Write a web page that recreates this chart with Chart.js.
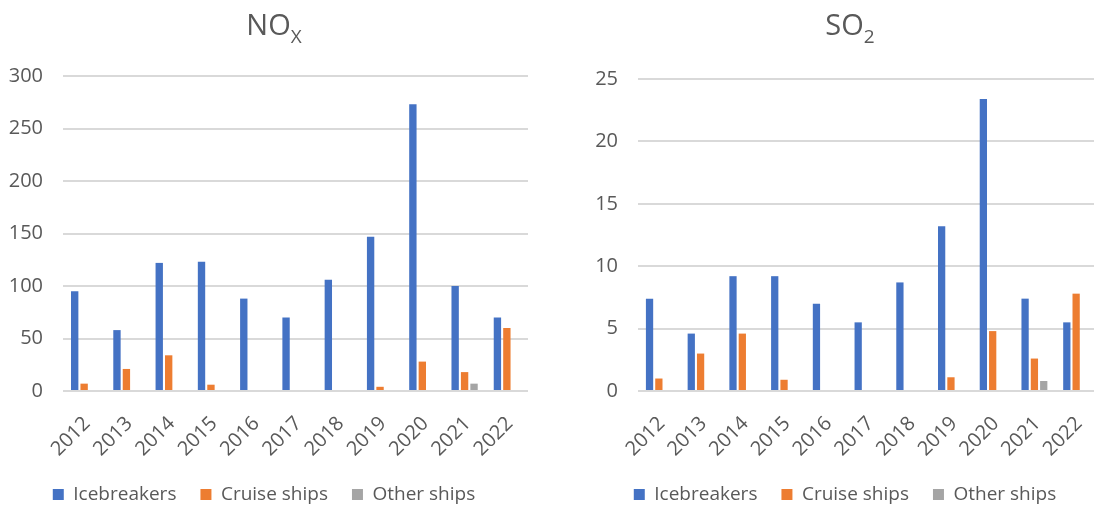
<!DOCTYPE html>
<html>
<head>
<meta charset="utf-8">
<title>NOx and SO2 emissions</title>
<script src="https://cdn.jsdelivr.net/npm/chart.js@4.4.0/dist/chart.umd.min.js"></script>
<style>
  html, body { margin: 0; padding: 0; background: #fff; overflow: hidden; }
  #wrap { position: relative; width: 1094px; height: 507px; overflow: hidden; }
  .box { position: absolute; top: 0; height: 514px; }
  #noxBox { left: 0; width: 547px; }
  #so2Box { left: 560px; width: 580px; }
</style>
</head>
<body>
<div id="wrap">
  <div class="box" id="noxBox"><canvas id="noxChart"></canvas></div>
  <div class="box" id="so2Box"><canvas id="so2Chart"></canvas></div>
</div>
<script>
// Data
const years = ['2012', '2013', '2014', '2015', '2016', '2017', '2018', '2019', '2020', '2021', '2022'];
const seriesNames = ['Icebreakers', 'Cruise ships', 'Other ships'];

const noxIcebreakers = [95, 58, 122, 123, 88, 70, 106, 147, 273, 100, 70];
const noxCruise = [7, 21, 34, 6, 0, 0, 0, 4, 28, 18, 60];
const noxOther = [0, 0, 0, 0, 0, 0, 0, 0, 0, 7, 0];

const so2Icebreakers = [7.4, 4.6, 9.2, 9.2, 7.0, 5.5, 8.7, 13.2, 23.4, 7.4, 5.5];
const so2Cruise = [1.0, 3.0, 4.6, 0.9, 0, 0, 0, 1.1, 4.8, 2.6, 7.8];
const so2Other = [0, 0, 0, 0, 0, 0, 0, 0, 0, 0.8, 0];

const FONT = '"Open Sans", sans-serif';
const TEXT = '#595959';
const GRID = '#d9d9d9';
const colors = ['#4472C4', '#ED7D31', '#A5A5A5'];

// Title with a subscript part (NOx, SO2)
const subTitlePlugin = {
  id: 'subTitle',
  afterDraw(chart, args, opts) {
    const ctx = chart.ctx;
    ctx.save();
    ctx.fillStyle = TEXT;
    ctx.textBaseline = 'alphabetic';
    ctx.textAlign = 'left';
    ctx.font = opts.size + 'px ' + FONT;
    const w1 = ctx.measureText(opts.text).width;
    ctx.font = opts.subSize + 'px ' + FONT;
    const w2 = ctx.measureText(opts.sub).width;
    const x = opts.x - (w1 + w2) / 2;
    ctx.font = opts.size + 'px ' + FONT;
    ctx.fillText(opts.text, x, opts.y);
    ctx.font = opts.subSize + 'px ' + FONT;
    ctx.fillText(opts.sub, x + w1, opts.y + opts.subDrop);
    ctx.restore();
  }
};

function makeChart(id, values, yMax, yStep, layout) {
  const ctx = document.getElementById(id).getContext('2d');
  return new Chart(ctx, {
    type: 'bar',
    data: {
      labels: years,
      datasets: values.map(function(data, i) {
        return {
          label: seriesNames[i],
          data: data,
          backgroundColor: colors[i],
          borderWidth: 0,
          categoryPercentage: 0.67,
          barPercentage: 0.78
        };
      })
    },
    options: {
      responsive: true,
      maintainAspectRatio: false,
      animation: false,
      layout: {
        padding: { top: layout.top, left: layout.left, right: layout.right, bottom: 0 }
      },
      scales: {
        x: {
          grid: { display: false },
          border: { display: false },
          ticks: {
            color: TEXT,
            font: { family: FONT, size: 20 },
            minRotation: 45,
            maxRotation: 45,
            padding: 13,
            labelOffset: 3
          },
          afterFit: function(scale) { scale.height = 70; }
        },
        y: {
          min: 0,
          max: yMax,
          border: { display: false },
          grid: { color: GRID, lineWidth: 2, drawTicks: false },
          ticks: {
            stepSize: yStep,
            color: TEXT,
            padding: 20,
            font: { family: FONT, size: 20 }
          },
          afterFit: function(scale) { scale.width = layout.axisWidth; }
        }
      },
      plugins: {
        legend: {
          position: 'bottom',
          labels: {
            color: TEXT,
            boxWidth: 11,
            boxHeight: 11,
            padding: 24,
            font: { family: FONT, size: 19 }
          }
        },
        tooltip: { enabled: false },
        subTitle: layout.title
      }
    },
    plugins: [subTitlePlugin]
  });
}

// NOx chart
makeChart('noxChart', [noxIcebreakers, noxCruise, noxOther], 300, 50, {
  top: 76, left: 0, right: 19, axisWidth: 63,
  title: { text: 'NO', sub: 'X', x: 274, y: 35, size: 29, subSize: 19, subDrop: 8 }
});

// SO2 chart
makeChart('so2Chart', [so2Icebreakers, so2Cruise, so2Other], 25, 5, {
  top: 79, left: 33, right: 43, axisWidth: 45,
  title: { text: 'SO', sub: '2', x: 290, y: 35, size: 29, subSize: 19, subDrop: 8 }
});
</script>
</body>
</html>
